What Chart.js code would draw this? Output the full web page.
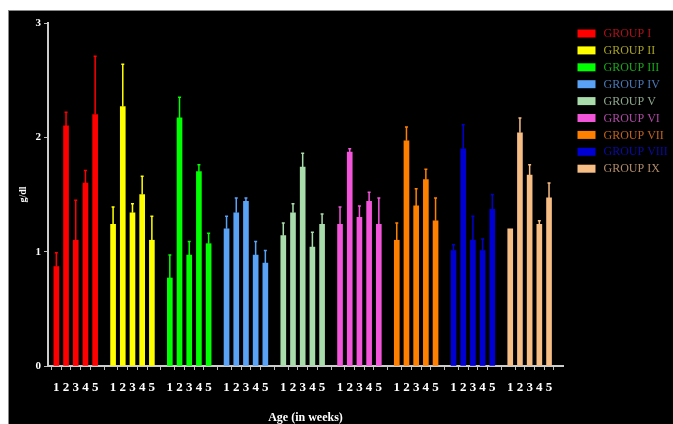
<!DOCTYPE html>
<html>
<head>
<meta charset="utf-8">
<script src="https://cdn.jsdelivr.net/npm/chart.js@4/dist/chart.umd.min.js"></script>
<style>
  html, body { margin: 0; padding: 0; background: #fff; }
  #wrap {
    position: absolute; left: 8px; top: 10px; width: 664px; height: 413px;
    background: #000; border-left: 1px solid #888; border-top: 1px solid #888;
  }
  canvas { display: block; }
</style>
</head>
<body>
<div id="wrap"><canvas id="chart" width="664" height="413"></canvas></div>
<script>
const weeks = ['1', '2', '3', '4', '5'];
const groupNames = ['GROUP I', 'GROUP II', 'GROUP III', 'GROUP IV', 'GROUP V',
  'GROUP VI', 'GROUP VII', 'GROUP VIII', 'GROUP IX'];

// mean g/dl per week, and the upper error (SEM)
const groupI = [0.87, 2.10, 1.10, 1.60, 2.20];
const groupIErr = [0.12, 0.12, 0.35, 0.11, 0.51];
const groupII = [1.24, 2.27, 1.34, 1.50, 1.10];
const groupIIErr = [0.15, 0.37, 0.08, 0.16, 0.21];
const groupIII = [0.77, 2.17, 0.97, 1.70, 1.07];
const groupIIIErr = [0.20, 0.18, 0.12, 0.06, 0.09];
const groupIV = [1.20, 1.34, 1.44, 0.97, 0.90];
const groupIVErr = [0.11, 0.13, 0.03, 0.12, 0.11];
const groupV = [1.14, 1.34, 1.74, 1.04, 1.24];
const groupVErr = [0.11, 0.08, 0.12, 0.13, 0.09];
const groupVI = [1.24, 1.87, 1.30, 1.44, 1.24];
const groupVIErr = [0.15, 0.03, 0.10, 0.08, 0.23];
const groupVII = [1.10, 1.97, 1.40, 1.63, 1.27];
const groupVIIErr = [0.15, 0.12, 0.15, 0.09, 0.20];
const groupVIII = [1.01, 1.90, 1.10, 1.01, 1.37];
const groupVIIIErr = [0.05, 0.21, 0.21, 0.10, 0.13];
const groupIX = [1.20, 2.04, 1.67, 1.24, 1.47];
const groupIXErr = [0.00, 0.13, 0.09, 0.03, 0.13];

const yTicks = [0, 1, 2, 3];

const means = [groupI, groupII, groupIII, groupIV, groupV, groupVI, groupVII, groupVIII, groupIX];
const errs = [groupIErr, groupIIErr, groupIIIErr, groupIVErr, groupVErr, groupVIErr, groupVIIErr, groupVIIIErr, groupIXErr];

const barColors = ['#ff0000', '#ffff00', '#00ff00', '#5aa2f6', '#a9dcab',
  '#f254da', '#ff8000', '#0000d2', '#f6bd85'];
const textColors = ['#b0101a', '#a8a224', '#18a818', '#4a78b6', '#8ea88e',
  '#b048a6', '#c0621c', '#0a0aa6', '#b08a6a'];

// spacing on the x axis: one unit per week, groups a bit under 6 units apart
const groupStep = 5.85;
const xPos = (g, i) => g * groupStep + i;
const tickPositions = [];
means.forEach((m, g) => m.forEach((v, i) => tickPositions.push(xPos(g, i))));

const datasets = means.map((m, g) => ({
  label: groupNames[g],
  data: m.map((v, i) => ({ x: xPos(g, i), y: v })),
  err: errs[g],
  backgroundColor: barColors[g],
  borderWidth: 0,
  barThickness: 5,
  grouped: false
}));

const errorBars = {
  id: 'errorBars',
  afterDatasetsDraw(chart) {
    const { ctx, scales: { y } } = chart;
    ctx.save();
    chart.data.datasets.forEach((ds, di) => {
      const meta = chart.getDatasetMeta(di);
      ctx.strokeStyle = ds.backgroundColor;
      ctx.lineWidth = 1.5;
      meta.data.forEach((bar, i) => {
        const e = ds.err[i];
        if (!e) return;
        const top = y.getPixelForValue(ds.data[i].y + e);
        ctx.beginPath();
        ctx.moveTo(bar.x, bar.y);
        ctx.lineTo(bar.x, top);
        ctx.moveTo(bar.x - 1.5, top);
        ctx.lineTo(bar.x + 1.5, top);
        ctx.stroke();
      });
    });
    ctx.restore();
  }
};

const sideLegend = {
  id: 'sideLegend',
  afterDraw(chart) {
    const { ctx } = chart;
    ctx.save();
    ctx.font = '12px "Liberation Serif"';
    ctx.textBaseline = 'middle';
    chart.data.datasets.forEach((ds, i) => {
      const cy = 22.5 + i * 16.9;
      ctx.fillStyle = ds.backgroundColor;
      ctx.fillRect(568.5, cy - 4, 18, 8);
      ctx.fillStyle = textColors[i];
      ctx.fillText(ds.label, 594.5, cy + 0.5);
    });
    ctx.restore();
  }
};

new Chart(document.getElementById('chart'), {
  type: 'bar',
  data: { datasets },
  plugins: [errorBars, sideLegend],
  options: {
    responsive: false,
    animation: false,
    layout: { padding: { left: 0, top: 12, right: 110, bottom: 0 } },
    plugins: { legend: { display: false }, tooltip: { enabled: false } },
    scales: {
      x: {
        type: 'linear',
        offset: false,
        min: -0.86,
        max: 52.24,
        afterBuildTicks: (scale) => { scale.ticks = tickPositions.map(v => ({ value: v })); },
        afterFit: (scale) => { scale.height = 58; },
        grid: { drawOnChartArea: false, drawTicks: true, tickLength: 4, color: '#bbbbbb', lineWidth: 1 },
        border: { color: '#cccccc', width: 2 },
        ticks: {
          autoSkip: false, maxRotation: 0, padding: 10,
          color: '#ffffff',
          font: { family: 'Liberation Serif', size: 13, weight: 'bold' },
          callback: (v, idx) => weeks[idx % weeks.length]
        },
        title: {
          display: true, text: 'Age (in weeks)', color: '#ffffff',
          font: { family: 'Liberation Serif', size: 12, weight: 'bold' },
          padding: { top: 0, bottom: -1 }
        }
      },
      y: {
        min: 0,
        max: 3,
        afterBuildTicks: (scale) => { scale.ticks = yTicks.map(v => ({ value: v })); },
        afterFit: (scale) => { scale.width = 39; },
        grid: { drawOnChartArea: false, drawTicks: true, tickLength: 4, color: '#bbbbbb' },
        border: { color: '#cccccc', width: 2 },
        ticks: {
          padding: 3, color: '#ffffff',
          font: { family: 'Liberation Serif', size: 11, weight: 'bold' }
        },
        title: {
          display: true, text: 'g/dl', color: '#ffffff',
          font: { family: 'Liberation Serif', size: 10, weight: 'bold' },
          padding: { top: 8, bottom: 0 }
        }
      }
    }
  }
});
</script>
</body>
</html>
